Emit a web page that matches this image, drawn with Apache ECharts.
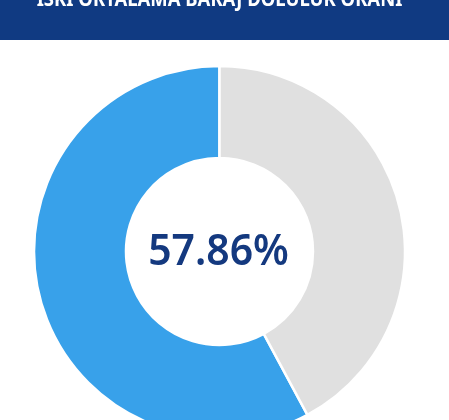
<!DOCTYPE html>
<html>
<head>
<meta charset="utf-8">
<script src="https://cdn.jsdelivr.net/npm/echarts@6/dist/echarts.min.js"></script>
<style>
  html, body { margin: 0; padding: 0; background: #fff; }
  #chart { width: 449px; height: 420px; }
</style>
</head>
<body>
<div id="chart"></div>
<script>
// veri
const titleText = 'İSKİ ORTALAMA BARAJ DOLULUK ORANI'
const categories = ['Doluluk', 'Boş']
const values = [57.86, 42.14]
const colors = ['#38a1ea', '#e0e0e0']

const chart = echarts.init(document.getElementById('chart'))

const option = {
  animation: false,
  graphic: [
    {
      type: 'rect',
      shape: { x: 0, y: 0, width: 449, height: 40 },
      style: { fill: '#103a82' },
      z: 10
    },
    {
      type: 'text',
      x: 219.5,
      y: 11,
      scaleX: 0.88,
      style: {
        text: titleText,
        fill: '#fff',
        font: 'bold 21px "Noto Sans", sans-serif',
        textAlign: 'center',
        textVerticalAlign: 'bottom'
      },
      z: 11
    },
    {
      type: 'text',
      x: 218.5,
      y: 252,
      scaleX: 0.93,
      style: {
        text: values[0].toFixed(2) + '%',
        fill: '#14397f',
        font: '600 44px "Noto Sans", sans-serif',
        textAlign: 'center',
        textVerticalAlign: 'middle'
      },
      z: 11
    }
  ],
  series: [{
    type: 'pie',
    center: [219.5, 251.5],
    radius: [93.5, 185.5],
    startAngle: 90,
    clockwise: false,
    silent: true,
    label: { show: false },
    labelLine: { show: false },
    itemStyle: { borderColor: '#fff', borderWidth: 2.5 },
    data: categories.map((name, i) => ({
      name: name,
      value: values[i],
      itemStyle: { color: colors[i] }
    }))
  }]
}

chart.setOption(option)
</script>
</body>
</html>
